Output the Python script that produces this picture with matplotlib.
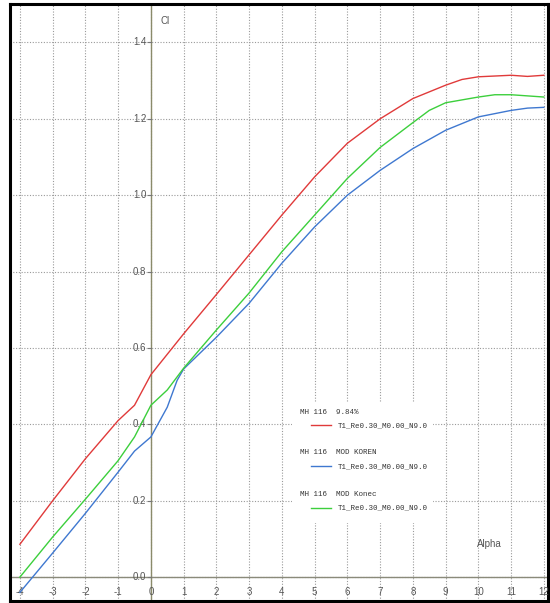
import numpy as np
import matplotlib.pyplot as plt

# Lift curves
alpha_red = [-4, -3, -2, -1, -0.5, 0, 1, 2, 3, 4, 5, 6, 7, 8, 9, 9.5, 10, 11, 11.5, 12]
cl_red = [0.086, 0.20, 0.31, 0.41, 0.45, 0.53, 0.637, 0.74, 0.844, 0.948, 1.048,
          1.136, 1.20, 1.253, 1.288, 1.303, 1.31, 1.314, 1.311, 1.314]

alpha_blue = [-4, -3, -2, -1, -0.5, 0, 0.5, 0.8, 1, 2, 3, 4, 5, 6, 7, 8, 9, 10, 11, 11.5, 12]
cl_blue = [-0.04, 0.063, 0.167, 0.275, 0.33, 0.367, 0.445, 0.515, 0.545, 0.628, 0.717,
           0.822, 0.917, 1.0, 1.065, 1.122, 1.17, 1.205, 1.222, 1.228, 1.23]

alpha_green = [-4, -3, -2, -1, -0.5, 0, 0.25, 0.5, 1, 2, 3, 4, 5, 6, 7, 8, 8.5, 9, 10, 10.5, 11, 12]
cl_green = [0.0, 0.105, 0.204, 0.305, 0.367, 0.45, 0.47, 0.49, 0.547, 0.647, 0.744, 0.852,
            0.948, 1.044, 1.125, 1.19, 1.222, 1.242, 1.257, 1.263, 1.263, 1.257]

x_ticks = list(range(-4, 13))
y_ticks = [0.0, 0.2, 0.4, 0.6, 0.8, 1.0, 1.2, 1.4]

names = ["MH 116  9.84%", "MH 116  MOD KOREN", "MH 116  MOD Konec"]
run_label = "T1_Re0.30_M0.00_N9.0"
colors = ["#e03a3a", "#3f78d0", "#3ccf3c"]

fig = plt.figure(figsize=(5.5, 6.03), dpi=100)
ax = fig.add_axes([0.018, 0.003, 0.978, 0.99])
ax.set_xlim(-4.305, 12.12)
ax.set_ylim(-0.063, 1.5)

# dotted grid
for x in x_ticks:
    ax.axvline(x, color="#9a9a9a", lw=0.8, ls=(0, (1, 1.5)), zorder=1)
for y in y_ticks:
    ax.axhline(y, color="#9a9a9a", lw=0.8, ls=(0, (1, 1.5)), zorder=1)

# axes through the origin
ax.axvline(0, color="#8a8a6a", lw=1.0, zorder=2)
ax.axhline(0, color="#8a8a7a", lw=1.0, zorder=2)

ax.set_xticks([])
ax.set_yticks([])
for s in ax.spines.values():
    s.set_linewidth(2.2)
    s.set_color("black")

tick_font = dict(fontsize=7, color="#555555", family="Liberation Sans")
for y in y_ticks:
    ax.plot([-0.1, 0], [y, y], color="#777777", lw=0.8, zorder=2)
    ax.text(-0.14, y, f"{y:.1f}", ha="right", va="center", **tick_font)
for x in x_ticks:
    ax.text(x, -0.04, str(x), ha="center", va="center", **tick_font)

ax.text(0.3, 1.455, "Cl", ha="left", va="center", **tick_font)
ax.text(10.35, 0.088, "Alpha", ha="center", va="center", **tick_font)

ax.plot(alpha_red, cl_red, color=colors[0], lw=1.0, zorder=3)
ax.plot(alpha_blue, cl_blue, color=colors[1], lw=1.0, zorder=3)
ax.plot(alpha_green, cl_green, color=colors[2], lw=1.0, zorder=3)

# legend box (white patch over the grid)
ax.add_patch(plt.Rectangle((4.3, 0.141), 4.3, 0.317, facecolor="white",
                           edgecolor="none", zorder=2.5))
leg_font = dict(fontsize=5.4, color="#333333", family="Liberation Mono")
leg_y = [0.432, 0.325, 0.217]
for name, color, yy in zip(names, colors, leg_y):
    ax.text(4.55, yy, name, ha="left", va="center", zorder=4, **leg_font)
    ax.plot([4.88, 5.5], [yy - 0.035, yy - 0.035], color=color, lw=1.0, zorder=4)
    ax.text(5.72, yy - 0.035, run_label, ha="left", va="center", zorder=4, **leg_font)

fig.savefig("out.png", dpi=100)
